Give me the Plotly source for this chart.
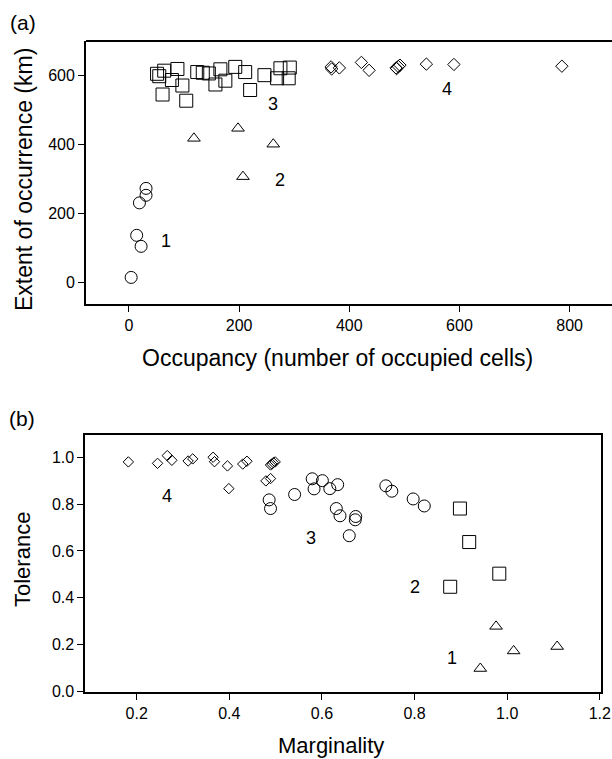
import plotly.graph_objects as go

# ---------- Panel (a): occupancy vs extent of occurrence ----------
occ_g1 = [4, 14, 22, 19, 31, 31]
ext_g1 = [15, 137, 105, 231, 273, 253]

occ_g2 = [118, 198, 207, 262]
ext_g2 = [418, 447, 307, 401]

occ_g3 = [55, 51, 64, 88, 78, 61, 97, 104, 124, 134, 145, 157, 166, 175,
          193, 211, 220, 246, 269, 275, 292, 290]
ext_g3 = [598, 605, 614, 619, 587, 545, 571, 527, 610, 608, 606, 574, 618,
          585, 625, 610, 558, 601, 592, 621, 623, 592]

occ_g4 = [367, 368, 382, 422, 436, 485, 489, 492, 486, 540, 590, 786]
ext_g4 = [625, 619, 622, 638, 615, 622, 626, 630, 620, 633, 632, 627]

# ---------- Panel (b): marginality vs tolerance ----------
mar_g1 = [0.976, 1.014, 1.108, 0.942]
tol_g1 = [0.278, 0.173, 0.192, 0.098]

mar_g2 = [0.898, 0.918, 0.983, 0.877]
tol_g2 = [0.781, 0.638, 0.503, 0.447]

mar_g3 = [0.486, 0.489, 0.541, 0.579, 0.583, 0.601, 0.617, 0.634, 0.631,
          0.639, 0.673, 0.672, 0.659, 0.738, 0.751, 0.797, 0.821]
tol_g3 = [0.818, 0.781, 0.841, 0.908, 0.865, 0.900, 0.866, 0.883, 0.781,
          0.750, 0.747, 0.733, 0.665, 0.878, 0.855, 0.822, 0.792]

mar_g4 = [0.182, 0.245, 0.266, 0.276, 0.311, 0.321, 0.365, 0.368, 0.396,
          0.399, 0.429, 0.438, 0.479, 0.489, 0.489, 0.495, 0.499, 0.492]
tol_g4 = [0.980, 0.974, 1.007, 0.987, 0.984, 0.993, 1.000, 0.981, 0.963,
          0.866, 0.971, 0.983, 0.899, 0.909, 0.967, 0.977, 0.980, 0.971]

# group number labels placed beside each cluster
lab_a_text = ["1", "2", "3", "4"]
lab_a_x = [67, 275, 262, 578]
lab_a_y = [121, 297, 517, 560]

lab_b_text = ["1", "2", "3", "4"]
lab_b_x = [0.880, 0.800, 0.576, 0.266]
lab_b_y = [0.144, 0.446, 0.657, 0.836]

FONT = "Liberation Sans, Arial, Helvetica, sans-serif"
W, H = 612, 759


def px_x(p):
    return p / W


def px_y(p):
    return 1 - p / H


fig = go.Figure()


def add_pts(x, y, sym, size, xa, ya):
    fig.add_trace(go.Scatter(
        x=x, y=y, mode="markers", xaxis=xa, yaxis=ya, showlegend=False,
        marker=dict(symbol=sym, size=size, color="black",
                    line=dict(color="black", width=1)),
        hoverinfo="x+y"))


add_pts(occ_g1, ext_g1, "circle-open", 12, "x", "y")
add_pts(occ_g2, ext_g2, "triangle-up-open", 11, "x", "y")
add_pts(occ_g3, ext_g3, "square-open", 13, "x", "y")
add_pts(occ_g4, ext_g4, "diamond-open", 9.5, "x", "y")

add_pts(mar_g1, tol_g1, "triangle-up-open", 11, "x2", "y2")
add_pts(mar_g2, tol_g2, "square-open", 13, "x2", "y2")
add_pts(mar_g3, tol_g3, "circle-open", 12, "x2", "y2")
add_pts(mar_g4, tol_g4, "diamond-open", 8, "x2", "y2")

axis_common = dict(showgrid=False, zeroline=False, showline=True,
                   linecolor="black", linewidth=1.8, ticks="outside",
                   ticklen=6, tickwidth=1, tickcolor="black",
                   automargin=False, color="black")

fig.update_layout(
    width=W, height=H,
    margin=dict(l=0, r=0, t=0, b=0),
    paper_bgcolor="white", plot_bgcolor="white",
    font=dict(family=FONT, color="black"),
    xaxis=dict(domain=[px_x(86), 1.0], range=[-78, 877],
               tickvals=[0, 200, 400, 600, 800], anchor="y",
               tickfont=dict(size=16), **axis_common),
    yaxis=dict(domain=[px_y(304), px_y(41)], range=[-62, 700],
               tickvals=[0, 200, 400, 600], anchor="x",
               tickfont=dict(size=16), **axis_common),
    xaxis2=dict(domain=[px_x(85.3), px_x(600.7)], range=[0.089, 1.202],
                tickvals=[0.2, 0.4, 0.6, 0.8, 1.0, 1.2],
                ticktext=["0.2", "0.4", "0.6", "0.8", "1.0", "1.2"],
                anchor="y2", mirror=True, tickfont=dict(size=16),
                **axis_common),
    yaxis2=dict(domain=[px_y(691.7), px_y(435)], range=[-0.001, 1.095],
                tickvals=[0, 0.2, 0.4, 0.6, 0.8, 1.0],
                ticktext=["0.0", "0.2", "0.4", "0.6", "0.8", "1.0"],
                anchor="x2", mirror=True, tickfont=dict(size=16),
                **axis_common),
)

# top border of panel (a); its right edge runs past the page
fig.add_shape(type="line", xref="x domain", yref="y domain",
              x0=0, x1=1, y0=1, y1=1,
              line=dict(color="black", width=1.8))

ann = []
for t, x, y in zip(lab_a_text, lab_a_x, lab_a_y):
    ann.append(dict(text=t, x=x, y=y, xref="x", yref="y", showarrow=False,
                    font=dict(size=18)))
for t, x, y in zip(lab_b_text, lab_b_x, lab_b_y):
    ann.append(dict(text=t, x=x, y=y, xref="x2", yref="y2", showarrow=False,
                    font=dict(size=18)))


def paper_text(text, x, y, size, angle=0):
    return dict(text=text, x=px_x(x), y=px_y(y), xref="paper", yref="paper",
                xanchor="center", yanchor="middle", textangle=angle,
                showarrow=False, font=dict(size=size))


# panel tags and axis titles
ann += [
    paper_text("(a)", 22.5, 22, 21),
    paper_text("(b)", 21.7, 418, 21),
    paper_text("Extent of occurrence (km)", 24, 180, 23, -90),
    paper_text("Occupancy (number of occupied cells)", 337, 358, 23),
    paper_text("Tolerance", 22, 560, 22, -90),
    paper_text("Marginality", 331, 745, 22),
]
fig.update_layout(annotations=ann)

fig.write_html("out.html")
